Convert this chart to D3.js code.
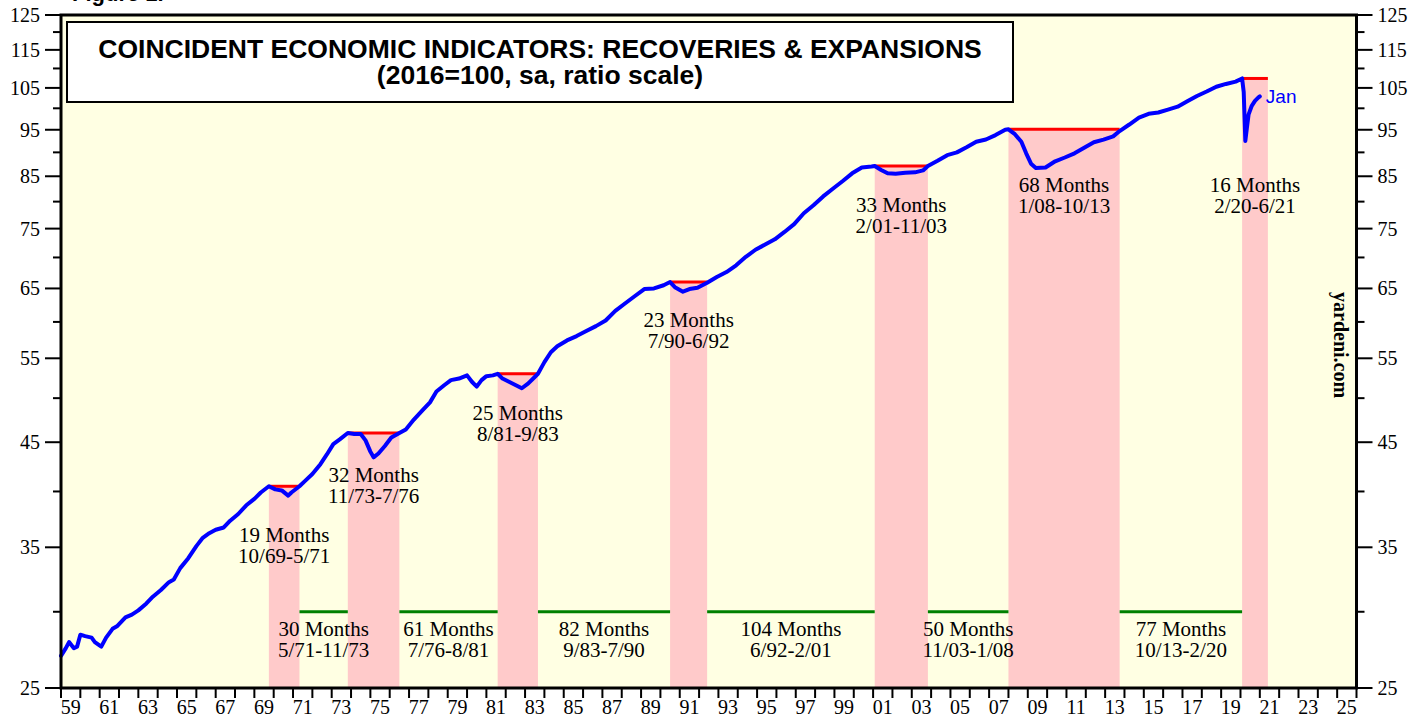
<!DOCTYPE html>
<html>
<head>
<meta charset="utf-8">
<script src="https://cdn.jsdelivr.net/npm/d3@7"></script>
<style>
  body { margin: 0; background: #fff; }
  svg { display: block; }
</style>
</head>
<body>
<svg id="chart" width="1425" height="717"></svg>
<script>
// coincident index, 2016=100
var months = [
  '1959-01','1959-04','1959-06','1959-09','1959-11','1960-01','1960-04','1960-08','1960-10','1961-02',
  '1961-05','1961-09','1961-12','1962-05','1962-09','1963-01','1963-06','1963-10','1964-03','1964-08',
  '1964-11','1965-03','1965-08','1966-01','1966-05','1966-09','1967-01','1967-06','1967-10','1968-03',
  '1968-08','1969-01','1969-05','1969-10','1970-02','1970-06','1970-10','1970-12','1971-05','1971-09',
  '1972-01','1972-06','1972-10','1973-02','1973-06','1973-11','1974-03','1974-07','1974-10','1975-01',
  '1975-03','1975-06','1975-10','1976-02','1976-07','1976-11','1977-04','1977-09','1978-02','1978-06',
  '1978-11','1979-03','1979-08','1980-01','1980-04','1980-07','1980-10','1981-01','1981-05','1981-08',
  '1981-11','1982-03','1982-07','1982-11','1983-03','1983-07','1983-09','1984-01','1984-05','1984-09',
  '1985-03','1985-09','1986-03','1986-09','1987-03','1987-09','1988-03','1988-09','1989-03','1989-09',
  '1990-03','1990-07','1990-10','1991-03','1991-07','1991-12','1992-06','1992-12','1993-06','1993-12',
  '1994-06','1994-12','1995-06','1995-12','1996-06','1996-12','1997-06','1997-12','1998-06','1998-12',
  '1999-06','1999-12','2000-06','2000-12','2001-02','2001-06','2001-10','2002-03','2002-09','2003-03',
  '2003-08','2003-11','2004-05','2004-11','2005-05','2005-11','2006-05','2006-11','2007-05','2007-11',
  '2008-01','2008-05','2008-09','2008-12','2009-03','2009-06','2009-12','2010-06','2010-12','2011-06',
  '2011-12','2012-06','2012-12','2013-06','2013-10','2014-04','2014-10','2015-04','2015-10','2016-04',
  '2016-10','2017-04','2017-10','2018-04','2018-10','2019-04','2019-10','2020-02','2020-03','2020-04',
  '2020-05','2020-06','2020-08','2020-10','2020-12','2021-01'
];
var index = [
  27.0, 27.5, 27.9, 27.5, 27.6, 28.4, 28.3, 28.2, 27.9, 27.6,
  28.2, 28.8, 29.0, 29.6, 29.8, 30.1, 30.6, 31.1, 31.6, 32.2,
  32.4, 33.3, 34.1, 35.1, 35.8, 36.2, 36.5, 36.7, 37.3, 37.9,
  38.7, 39.3, 39.9, 40.5, 40.2, 40.1, 39.6, 39.9, 40.5, 41.1,
  41.7, 42.7, 43.7, 44.8, 45.3, 46.0, 45.9, 45.9, 45.2, 44.0,
  43.4, 43.8, 44.6, 45.5, 46.0, 46.4, 47.5, 48.5, 49.5, 50.8,
  51.6, 52.2, 52.4, 52.8, 52.0, 51.4, 52.2, 52.7, 52.8, 53.0,
  52.4, 52.0, 51.6, 51.2, 51.8, 52.6, 53.0, 54.5, 55.8, 56.6,
  57.4, 58.0, 58.7, 59.4, 60.2, 61.6, 62.7, 63.8, 64.9, 65.0,
  65.5, 66.0, 65.2, 64.5, 64.9, 65.1, 65.9, 66.8, 67.6, 68.7,
  70.1, 71.3, 72.2, 73.1, 74.4, 75.8, 77.8, 79.3, 81.0, 82.5,
  84.0, 85.6, 86.8, 87.0, 87.1, 86.3, 85.6, 85.5, 85.7, 85.8,
  86.2, 87.1, 88.2, 89.4, 90.0, 91.1, 92.3, 92.8, 93.8, 95.0,
  95.1, 94.0, 92.3, 89.8, 87.6, 86.7, 86.8, 88.1, 88.9, 89.8,
  91.0, 92.2, 92.8, 93.5, 94.7, 96.2, 97.8, 98.7, 99.0, 99.7,
  100.4, 101.7, 103.0, 104.1, 105.3, 106.0, 106.6, 107.4, 104.0, 92.5,
  95.5, 98.5, 100.6, 101.8, 102.6, 102.9
];

// recoveries: from the previous peak back to that peak
var recStart = ['1969-10', '1973-11', '1981-08', '1990-07', '2001-02', '2008-01', '2020-02'];
var recEnd = ['1971-05', '1976-07', '1983-09', '1992-06', '2003-11', '2013-10', '2021-06'];
var recMonths = [19, 32, 25, 23, 33, 68, 16];

// expansions between recoveries
var expStart = ['1971-05', '1976-07', '1983-09', '1992-06', '2003-11', '2013-10'];
var expEnd = ['1973-11', '1981-08', '1990-07', '2001-02', '2008-01', '2020-02'];
var expMonths = [30, 61, 82, 104, 50, 77];
var expLevel = 30;

var yTicks = [25, 35, 45, 55, 65, 75, 85, 95, 105, 115, 125];
var yMinor = [30, 40, 50, 60, 70, 80, 90, 100, 110, 120];
var xYears = d3.range(1959, 2027);
var xLabelYears = d3.range(1959, 2026, 2);

// layout
var L = 61, R = 1356.5, T = 15, B = 688;
var recLabelY = [542, 482, 420, 327, 212, 192, 192];
var expLabelY = 636;
var serif = '"Liberation Serif", "Times New Roman", serif';
var sans = '"Liberation Sans", Arial, sans-serif';

var toYear = function(s) {
  var p = s.split('-');
  return +p[0] + (+p[1] - 1) / 12;
};
var shortDate = function(s) {
  var p = s.split('-');
  return (+p[1]) + '/' + p[0].slice(2);
};
var valueAt = function(s) {
  return index[months.indexOf(s)];
};

var data = months.map(function(m, i) { return {t: toYear(m), v: index[i]}; });

var x = d3.scaleLinear().domain([1959, 2026]).range([L, R]);
var y = d3.scaleLog().domain([25, 125]).range([B, T]);

var svg = d3.select('#chart');

// plot background
svg.append('rect')
  .attr('x', L).attr('y', T).attr('width', R - L).attr('height', B - T)
  .attr('fill', '#ffffe3');

// pink recovery bands, from the old peak level down
svg.append('g').selectAll('rect')
  .data(d3.range(recStart.length)).enter().append('rect')
  .attr('x', function(i) { return x(toYear(recStart[i])); })
  .attr('width', function(i) { return x(toYear(recEnd[i])) - x(toYear(recStart[i])); })
  .attr('y', function(i) { return y(valueAt(recStart[i])); })
  .attr('height', function(i) { return B - y(valueAt(recStart[i])); })
  .attr('fill', '#ffcaca');

// red peak lines
svg.append('g').selectAll('line')
  .data(d3.range(recStart.length)).enter().append('line')
  .attr('x1', function(i) { return x(toYear(recStart[i])); })
  .attr('x2', function(i) { return x(toYear(recEnd[i])); })
  .attr('y1', function(i) { return y(valueAt(recStart[i])); })
  .attr('y2', function(i) { return y(valueAt(recStart[i])); })
  .attr('stroke', '#ff0000').attr('stroke-width', 3);

// green expansion lines
svg.append('g').selectAll('line')
  .data(d3.range(expStart.length)).enter().append('line')
  .attr('x1', function(i) { return x(toYear(expStart[i])); })
  .attr('x2', function(i) { return x(toYear(expEnd[i])); })
  .attr('y1', y(expLevel)).attr('y2', y(expLevel))
  .attr('stroke', '#008000').attr('stroke-width', 3);

// the index
svg.append('path')
  .datum(data)
  .attr('fill', 'none')
  .attr('stroke', '#0000ff')
  .attr('stroke-width', 4)
  .attr('stroke-linejoin', 'round')
  .attr('stroke-linecap', 'round')
  .attr('d', d3.line().x(function(d) { return x(d.t); }).y(function(d) { return y(d.v); }));

var last = data[data.length - 1];
svg.append('text')
  .attr('x', x(last.t) + 6).attr('y', y(last.v) + 7)
  .attr('font-family', sans).attr('font-size', 19)
  .attr('fill', '#0000ff')
  .text('Jan');

// recovery labels
var recLab = svg.append('g').selectAll('text')
  .data(d3.range(recStart.length)).enter().append('text')
  .attr('text-anchor', 'middle')
  .attr('font-family', serif).attr('font-size', 21)
  .attr('transform', function(i) {
    var cx = (x(toYear(recStart[i])) + x(toYear(recEnd[i]))) / 2;
    return 'translate(' + cx + ',' + recLabelY[i] + ')';
  });
recLab.append('tspan').attr('x', 0).attr('y', 0)
  .text(function(i) { return recMonths[i] + ' Months'; });
recLab.append('tspan').attr('x', 0).attr('y', 21)
  .text(function(i) { return shortDate(recStart[i]) + '-' + shortDate(recEnd[i]); });

// expansion labels
var expLab = svg.append('g').selectAll('text')
  .data(d3.range(expStart.length)).enter().append('text')
  .attr('text-anchor', 'middle')
  .attr('font-family', serif).attr('font-size', 21)
  .attr('transform', function(i) {
    var cx = (x(toYear(expStart[i])) + x(toYear(expEnd[i]))) / 2;
    return 'translate(' + cx + ',' + expLabelY + ')';
  });
expLab.append('tspan').attr('x', 0).attr('y', 0)
  .text(function(i) { return expMonths[i] + ' Months'; });
expLab.append('tspan').attr('x', 0).attr('y', 21)
  .text(function(i) { return shortDate(expStart[i]) + '-' + shortDate(expEnd[i]); });

// y axes, left and right
var drawY = function(side) {
  var g = svg.append('g');
  var sgn = side === 'left' ? -1 : 1;
  var x0 = side === 'left' ? L : R;
  g.selectAll('.major').data(yTicks).enter().append('line')
    .attr('x1', x0).attr('x2', x0 + sgn * 16)
    .attr('y1', function(d) { return y(d); }).attr('y2', function(d) { return y(d); })
    .attr('stroke', '#000').attr('stroke-width', 2);
  g.selectAll('.minor').data(yMinor).enter().append('line')
    .attr('x1', x0).attr('x2', x0 + sgn * 8)
    .attr('y1', function(d) { return y(d); }).attr('y2', function(d) { return y(d); })
    .attr('stroke', '#000').attr('stroke-width', 2);
  g.selectAll('text').data(yTicks).enter().append('text')
    .attr('x', x0 + sgn * 21)
    .attr('y', function(d) { return y(d) + 7; })
    .attr('text-anchor', side === 'left' ? 'end' : 'start')
    .attr('font-family', serif).attr('font-size', 20)
    .text(function(d) { return d; });
};
drawY('left');
drawY('right');

// x axis
var gx = svg.append('g');
gx.selectAll('line').data(xYears).enter().append('line')
  .attr('x1', function(d) { return x(d); }).attr('x2', function(d) { return x(d); })
  .attr('y1', B).attr('y2', B + 10)
  .attr('stroke', '#000').attr('stroke-width', 2);
gx.selectAll('text').data(xLabelYears).enter().append('text')
  .attr('x', function(d) { return x(d + 0.5); })
  .attr('y', B + 26)
  .attr('text-anchor', 'middle')
  .attr('font-family', serif).attr('font-size', 20)
  .text(function(d) { return String(d).slice(2); });

// frame
svg.append('rect')
  .attr('x', L).attr('y', T).attr('width', R - L).attr('height', B - T)
  .attr('fill', 'none').attr('stroke', '#000').attr('stroke-width', 3);

// title box
svg.append('rect')
  .attr('x', 67).attr('y', 22).attr('width', 946).attr('height', 80)
  .attr('fill', '#fff').attr('stroke', '#000').attr('stroke-width', 2);
var title = svg.append('text')
  .attr('text-anchor', 'middle')
  .attr('font-family', sans).attr('font-weight', 'bold').attr('font-size', 26.5);
title.append('tspan').attr('x', 540).attr('y', 58)
  .text('COINCIDENT ECONOMIC INDICATORS: RECOVERIES & EXPANSIONS');
title.append('tspan').attr('x', 540).attr('y', 84)
  .text('(2016=100, sa, ratio scale)');

// cut-off figure caption at the very top
svg.append('text')
  .attr('x', 72).attr('y', 1)
  .attr('font-family', sans).attr('font-weight', 'bold').attr('font-size', 22)
  .text('Figure 1.');

// source
svg.append('text')
  .attr('transform', 'translate(1334,292) rotate(90)')
  .attr('font-family', serif).attr('font-weight', 'bold').attr('font-size', 20)
  .text('yardeni.com');
</script>
</body>
</html>
